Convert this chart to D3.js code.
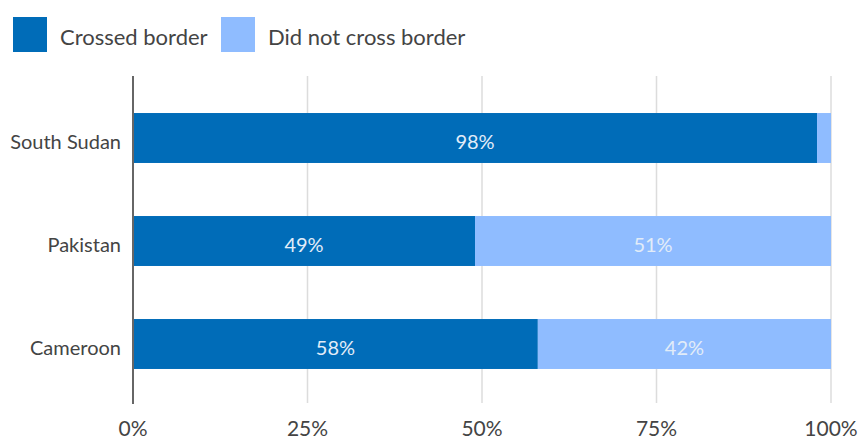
<!DOCTYPE html>
<html>
<head>
<meta charset="utf-8">
<script src="https://cdn.jsdelivr.net/npm/d3@7"></script>
<style>
  html, body { margin: 0; padding: 0; background: #fff; }
  svg { display: block; font-family: Lato, "Open Sans", sans-serif; }
</style>
</head>
<body>
<svg id="chart" width="860" height="438"></svg>
<script>
const countries = ["South Sudan", "Pakistan", "Cameroon"];
const crossed = [98, 49, 58];
const notCrossed = [2, 51, 42];
const seriesNames = ["Crossed border", "Did not cross border"];
const seriesColors = ["#006cb8", "#8fbcff"];
const tickValues = [0, 25, 50, 75, 100];

const svg = d3.select("#chart");
const x = d3.scaleLinear().domain([0, 100]).range([133, 831]);
const y = d3.scaleBand().domain(countries).range([86.5, 395.5])
  .paddingInner(0.515).paddingOuter(0.2575);

// grid lines
svg.append("g").selectAll("line").data(tickValues.slice(1)).join("line")
  .attr("x1", d => x(d)).attr("x2", d => x(d))
  .attr("y1", 76).attr("y2", 403)
  .attr("stroke", "#dcdcdc").attr("stroke-width", 1.5);

// stacked bars
const rows = countries.map((c, i) => ({ c, a: crossed[i], b: notCrossed[i] }));
const g = svg.append("g");
g.selectAll("rect.a").data(rows).join("rect").attr("class", "a")
  .attr("x", x(0)).attr("y", d => y(d.c))
  .attr("width", d => x(d.a) - x(0)).attr("height", y.bandwidth())
  .attr("fill", seriesColors[0]);
g.selectAll("rect.b").data(rows).join("rect").attr("class", "b")
  .attr("x", d => x(d.a)).attr("y", d => y(d.c))
  .attr("width", d => x(d.a + d.b) - x(d.a)).attr("height", y.bandwidth())
  .attr("fill", seriesColors[1]);

// value labels (only segments wide enough)
const labels = [];
rows.forEach(d => {
  labels.push({ c: d.c, v: d.a, cx: (x(0) + x(d.a)) / 2 });
  if (d.b >= 10) labels.push({ c: d.c, v: d.b, cx: (x(d.a) + x(d.a + d.b)) / 2 });
});
g.selectAll("text").data(labels).join("text")
  .attr("x", d => d.cx).attr("y", d => y(d.c) + y.bandwidth() / 2 + 10.5)
  .attr("text-anchor", "middle").attr("fill", "#e2ecf8")
  .attr("font-size", 20).text(d => d.v + "%");

// axis line
svg.append("line").attr("x1", x(0)).attr("x2", x(0)).attr("y1", 76).attr("y2", 404)
  .attr("stroke", "#666").attr("stroke-width", 2);

// category labels
svg.append("g").selectAll("text").data(countries).join("text")
  .attr("x", 121).attr("y", d => y(d) + y.bandwidth() / 2 + 10.5)
  .attr("text-anchor", "end").attr("fill", "#444").attr("font-size", 20)
  .text(d => d);

// tick labels
svg.append("g").selectAll("text").data(tickValues).join("text")
  .attr("x", d => x(d)).attr("y", 435.5)
  .attr("text-anchor", "middle").attr("fill", "#444").attr("font-size", 21)
  .text(d => d + "%");

// legend
const legendX = [13, 221];
const legend = svg.append("g").selectAll("g").data(seriesNames).join("g")
  .attr("transform", (d, i) => `translate(${legendX[i]},17)`);
legend.append("rect").attr("width", 34).attr("height", 35)
  .attr("fill", (d, i) => seriesColors[i]);
legend.append("text").attr("x", 47).attr("y", 28)
  .attr("fill", "#444").attr("font-size", 22).text(d => d);
</script>
</body>
</html>
